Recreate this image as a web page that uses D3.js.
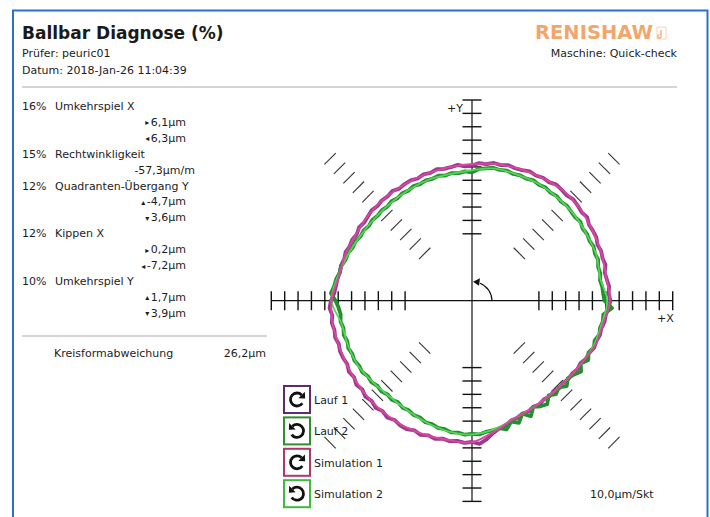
<!DOCTYPE html>
<html><head><meta charset="utf-8">
<script src="https://cdn.jsdelivr.net/npm/d3@7"></script>
<style>
body{margin:0;background:#fff;}
svg{display:block;}
text{font-family:"DejaVu Sans",Verdana,sans-serif;fill:#1c1c1c;}
</style>
</head><body>
<svg id="c" width="710" height="517"></svg>
<script>
// ---------- data ----------
const title = "Ballbar Diagnose (%)";
const tester = "Prüfer: peuric01";
const dateStr = "Datum: 2018-Jan-26 11:04:39";
const machine = "Maschine: Quick-check";
const brand = "RENISHAW";
const diagPct = ["16%","15%","12%","12%","10%"];
const diagName = ["Umkehrspiel X","Rechtwinkligkeit","Quadranten-Übergang Y","Kippen X","Umkehrspiel Y"];
const diagVals = [
  [["▸","6,1µm"],["◂","6,3µm"]],
  [["","-57,3µm/m"]],
  [["▴","-4,7µm"],["▾","3,6µm"]],
  [["▸","0,2µm"],["◂","-7,2µm"]],
  [["▴","1,7µm"],["▾","3,9µm"]]
];
const circLabel = "Kreisformabweichung";
const circValue = "26,2µm";
const scaleLabel = "10,0µm/Skt";
const legendNames = ["Lauf 1","Lauf 2","Simulation 1","Simulation 2"];
const legendDir = ["cw","ccw","cw","ccw"];
// axis ticks (µm on plot, 10 µm per division)
const axisTicks = [50,60,70,80,90,100,110,120,130,140,150];
const diagAngles = [45,135,225,315];
// simulation curves: plotted radius (100 = nominal circle) every 10°, from +X counter-clockwise
const simAngles = [0,10,20,30,40,50,60,70,80,90,100,110,120,130,140,150,160,170,180,190,200,210,220,230,240,250,260,270,280,290,300,310,320,330,340,350];
const sim1 = [103,101.8,103,104.2,106,106.8,105.7,104.7,103.7,102.2,101.2,100.7,100.5,100.6,100.4,99.9,100.7,101.3,105,105.5,105,105.2,106,106.5,106.7,106.2,105.7,105.8,99,93.5,92,91.5,92.3,94,97.8,99.5];
const sim2 = [101,97.3,99,99,99.8,100,100.5,100,100.3,97.5,96,96,95.3,95,95.3,96.5,99,102,105,99,98.5,98,95.8,94.5,95.2,97.3,99.3,100,97.5,93.5,92,91.5,92.3,94.2,97,98.5];
// measured runs every 3°
const run1 = [103.4,102.3,103.0,102.0,101.4,103.3,102.6,103.4,102.7,104.3,104.4,104.3,106.3,105.3,106.3,107.0,105.9,106.6,107.2,105.7,
  106.1,105.0,105.9,104.5,104.1,104.9,103.6,104.2,102.6,103.0,101.0,100.6,102.1,101.0,100.8,101.7,100.5,101.1,100.0,100.9,
  100.7,99.9,101.3,100.3,100.8,100.0,100.9,100.1,99.6,100.6,99.4,100.5,100.1,101.2,100.4,101.4,101.0,101.9,102.3,103.2,
  105.5,106.6,105.0,106.1,105.1,105.9,104.7,105.6,105.4,104.6,106.2,105.1,106.8,105.5,107.2,106.0,107.6,106.2,107.9,106.3,
  107.5,107.8,106.0,107.4,105.8,106.9,105.4,106.3,105.3,106.4,105.6,107.1,104.3,100.3,97.6,96.7,94.2,93.9,92.5,92.9,
  91.6,92.4,91.3,92.0,91.3,92.3,91.8,92.9,92.6,94.0,93.6,95.6,95.9,97.8,97.8,99.0,98.9,100.3,100.6,102.3];
const run2 = [99.0,98.2,97.9,96.9,98.0,97.6,99.1,98.4,99.5,98.6,99.4,98.7,100.1,99.2,99.6,100.4,99.5,100.6,99.9,100.9,
  100.1,101.0,99.8,100.4,99.6,100.7,99.9,100.6,99.4,98.6,96.0,96.8,95.9,96.6,95.6,96.7,95.8,96.3,95.4,96.2,
  95.0,95.8,94.7,95.6,94.6,95.4,94.9,95.9,95.2,96.5,96.2,97.7,97.6,99.2,99.3,101.0,101.1,102.8,103.6,105.6,
  102.0,99.8,98.7,99.5,98.2,99.2,98.0,99.0,97.9,98.6,97.4,97.9,96.2,96.7,95.1,95.8,94.3,95.2,93.9,95.3,
  94.6,95.9,95.6,97.3,96.9,98.4,98.1,99.6,99.1,100.3,99.6,100.1,98.6,98.2,97.4,99.6,95.0,97.8,92.4,96.9,
  91.6,94.1,95.6,91.0,93.9,91.5,95.3,92.1,94.0,97.2,93.8,97.5,95.3,97.6,96.4,98.5,97.8,99.0,98.7,104.8];
const runStep = 3;

// ---------- drawing ----------
const svg = d3.select("#c");
const cx = 472, cy = 300.7;
const r = d3.scaleLinear().domain([0,150]).range([0,200.7]);
const rad = a => a*Math.PI/180;
const px = (a,v) => cx + r(v)*Math.cos(rad(a));
const py = (a,v) => cy - r(v)*Math.sin(rad(a));

// frame
const blue = "#2a72c9";
svg.append("path").attr("d","M13,517 V10.5 H707.5 V517").attr("fill","none").attr("stroke",blue).attr("stroke-width",2);

// header
svg.append("text").attr("x",22).attr("y",39).attr("font-size",17).attr("font-weight","bold").style("fill","#1a1a1a").text(title);
svg.append("text").attr("x",22).attr("y",57).attr("font-size",11).text(tester);
svg.append("text").attr("x",22).attr("y",74).attr("font-size",11).text(dateStr);
svg.append("text").attr("x",677).attr("y",57).attr("font-size",11).attr("text-anchor","end").text(machine);
svg.append("text").attr("x",535).attr("y",39).attr("font-size",19).attr("font-weight","bold")
  .attr("textLength",118).attr("lengthAdjust","spacingAndGlyphs").style("fill","#f3a66c").text(brand);
svg.append("path").attr("d","M657,27 h9 v12 h-9 Z").attr("fill","none").attr("stroke","#f7d2b0").attr("stroke-width",1);
svg.append("path").attr("d","M661,30 v6 a1.6,1.6 0 1 1 -1.5,-1.2").attr("fill","none").attr("stroke","#f3a66c").attr("stroke-width",1.3);
svg.append("line").attr("x1",22).attr("x2",677).attr("y1",87).attr("y2",87).attr("stroke","#aaa").attr("stroke-width",1);

// diagnostics block
let row = 0;
const lineY = i => 110 + i*15.9;
diagPct.forEach((p,i)=>{
  svg.append("text").attr("x",22).attr("y",lineY(row)).attr("font-size",11).text(p);
  svg.append("text").attr("x",55).attr("y",lineY(row)).attr("font-size",11).text(diagName[i]);
  row++;
  diagVals[i].forEach(v=>{
    const t = svg.append("text").attr("x", v[0]==="" ? 195 : 186).attr("y",lineY(row)).attr("font-size",11).attr("text-anchor","end");
    if (v[0]!=="") t.append("tspan").attr("font-size",8).attr("dy",-0.5).text(v[0]);
    t.append("tspan").attr("dx",v[0]!==""?1.5:0).attr("dy",v[0]!==""?0.5:0).text(v[1]);
    row++;
  });
});
svg.append("line").attr("x1",22).attr("x2",267).attr("y1",336).attr("y2",336).attr("stroke","#aaa").attr("stroke-width",1);
svg.append("text").attr("x",54).attr("y",357).attr("font-size",11).text(circLabel);
svg.append("text").attr("x",266).attr("y",357).attr("font-size",11).attr("text-anchor","end").text(circValue);

// axes
const g = svg.append("g");
g.append("line").attr("x1",cx-r(150)).attr("x2",cx+r(150)).attr("y1",cy).attr("y2",cy).attr("stroke","#111").attr("stroke-width",1.2);
g.append("line").attr("y1",cy-r(150)).attr("y2",cy+r(150)).attr("x1",cx).attr("x2",cx).attr("stroke","#111").attr("stroke-width",1.2);
[0,90,180,270].forEach(a=>{
  axisTicks.forEach(v=>{
    const x = px(a,v), y = py(a,v);
    const nx = -Math.sin(rad(a)), ny = -Math.cos(rad(a));
    g.append("line").attr("x1",x-nx*9.5).attr("x2",x+nx*9.5).attr("y1",y-ny*9.5).attr("y2",y+ny*9.5)
      .attr("stroke","#111").attr("stroke-width",1.4);
  });
});
diagAngles.forEach(a=>{
  axisTicks.forEach(v=>{
    const x = px(a,v), y = py(a,v);
    const nx = -Math.sin(rad(a)), ny = -Math.cos(rad(a));
    g.append("line").attr("x1",x-nx*8).attr("x2",x+nx*8).attr("y1",y-ny*8).attr("y2",y+ny*8)
      .attr("stroke","#333").attr("stroke-width",1.1);
  });
});
svg.append("text").attr("x",463).attr("y",112).attr("font-size",11).attr("text-anchor","end").text("+Y");
svg.append("text").attr("x",657).attr("y",322).attr("font-size",11).text("+X");

// direction arrow at the origin
svg.append("path").attr("d",`M${cx+20},${cy} A19,19 0 0 0 ${cx+8},${cy-17.5}`).attr("fill","none").attr("stroke","#111").attr("stroke-width",1.1);
svg.append("path").attr("d",`M${cx+1},${cy-19} L${cx+8},${cy-22.5} L${cx+7},${cy-15} Z`).attr("fill","#111");

// data curves
const radial = d3.lineRadial().angle(d=>Math.PI/2 - rad(d[0])).radius(d=>r(d[1]));
const plotG = svg.append("g").attr("transform",`translate(${cx},${cy})`);
const runPts = arr => arr.map((v,i)=>[i*runStep, v]);
const simPts = arr => arr.map((v,i)=>[simAngles[i], v]);
plotG.append("path").attr("d",radial.curve(d3.curveLinearClosed)(runPts(run1)))
  .attr("fill","none").attr("stroke","#983a94").attr("stroke-width",3.8).attr("stroke-linejoin","round");
plotG.append("path").attr("d",radial.curve(d3.curveLinearClosed)(runPts(run2)))
  .attr("fill","none").attr("stroke","#23902e").attr("stroke-width",3.8).attr("stroke-linejoin","round");
plotG.append("path").attr("d",radial.curve(d3.curveCatmullRomClosed)(simPts(sim2)))
  .attr("fill","none").attr("stroke","#56d456").attr("stroke-width",1.8);
plotG.append("path").attr("d",radial.curve(d3.curveCatmullRomClosed)(simPts(sim1)))
  .attr("fill","none").attr("stroke","#d8479a").attr("stroke-width",2);

// legend
const legColors = ["#5e2a70","#2f8f2f","#b23568","#3fba3f"];
legendNames.forEach((n,i)=>{
  const bx = 284, by = 386 + i*31.4;
  svg.append("rect").attr("x",bx).attr("y",by).attr("width",26).attr("height",27)
    .attr("fill","#fff").attr("stroke",legColors[i]).attr("stroke-width",2);
  const icx = bx+13, icy = by+13.5, R = 6.5;
  const sgn = legendDir[i]==="cw" ? 1 : -1;
  const p = a => [icx + sgn*R*Math.cos(rad(a)), icy - R*Math.sin(rad(a))];
  const s = p(-35), e = p(45);
  svg.append("path").attr("d",`M${s[0]},${s[1]} A${R},${R} 0 1 ${sgn>0?1:0} ${e[0]},${e[1]}`)
    .attr("fill","none").attr("stroke","#111").attr("stroke-width",2.8);
  const a = rad(45);
  const tx = sgn*Math.sin(a), ty = Math.cos(a);
  const nx = sgn*Math.cos(a), ny = -Math.sin(a);
  svg.append("path").attr("d",`M${e[0]+tx*5},${e[1]+ty*5} L${e[0]+nx*4.6},${e[1]+ny*4.6} L${e[0]-nx*4.6},${e[1]-ny*4.6} Z`).attr("fill","#111");
  svg.append("text").attr("x",314).attr("y",by+18).attr("font-size",11).text(n);
});
svg.append("text").attr("x",590).attr("y",498).attr("font-size",11).text(scaleLabel);
</script>
</body></html>
